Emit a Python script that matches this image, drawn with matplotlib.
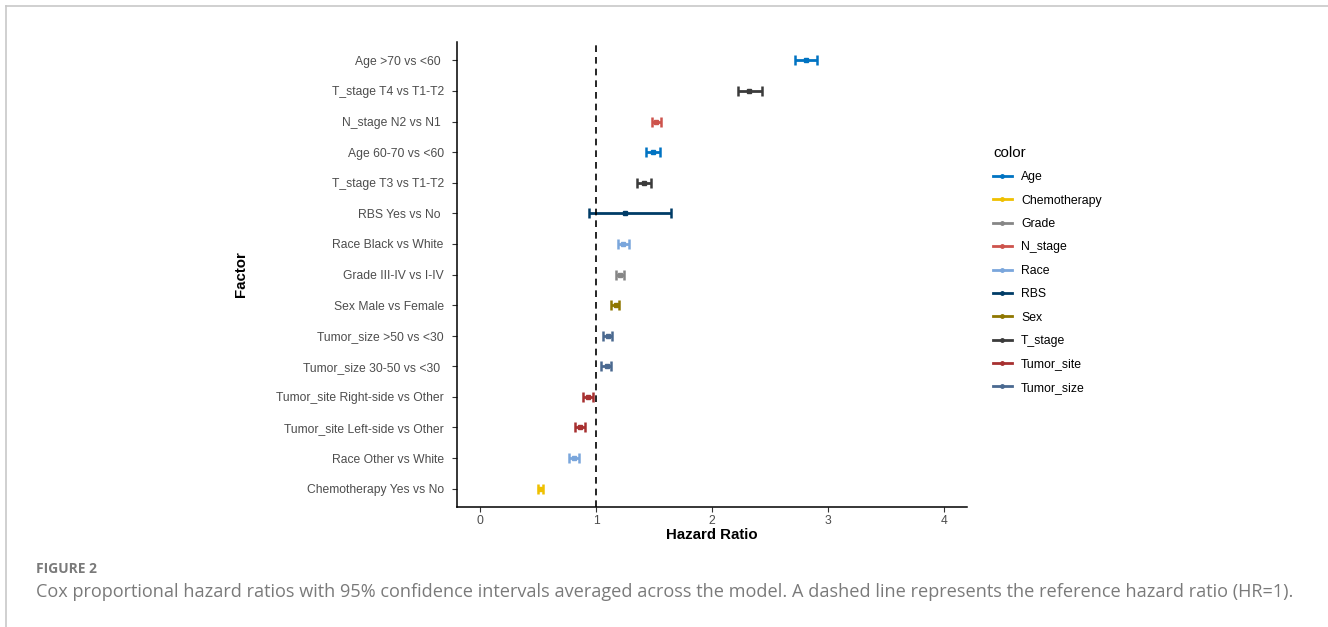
import matplotlib
matplotlib.use("Agg")
import matplotlib.pyplot as plt
from matplotlib.lines import Line2D

plt.rcParams["font.family"] = ["Liberation Sans", "DejaVu Sans"]

# rows, top to bottom as drawn
factors = ["Age >70 vs <60 ", "T_stage T4 vs T1-T2", "N_stage N2 vs N1 ", "Age 60-70 vs <60",
           "T_stage T3 vs T1-T2", "RBS Yes vs No ", "Race Black vs White", "Grade III-IV vs I-IV",
           "Sex Male vs Female", "Tumor_size >50 vs <30", "Tumor_size 30-50 vs <30 ",
           "Tumor_site Right-side vs Other", "Tumor_site Left-side vs Other",
           "Race Other vs White", "Chemotherapy Yes vs No"]
groups = ["Age", "T_stage", "N_stage", "Age", "T_stage", "RBS", "Race", "Grade", "Sex",
          "Tumor_size", "Tumor_size", "Tumor_site", "Tumor_site", "Race", "Chemotherapy"]
hr = [2.81, 2.32, 1.52, 1.49, 1.41, 1.25, 1.23, 1.21, 1.17, 1.10, 1.09, 0.93, 0.86, 0.81, 0.52]
ci_low = [2.72, 2.22, 1.48, 1.43, 1.35, 0.94, 1.19, 1.17, 1.13, 1.06, 1.04, 0.89, 0.82, 0.77, 0.50]
ci_high = [2.91, 2.43, 1.56, 1.55, 1.47, 1.65, 1.28, 1.24, 1.20, 1.14, 1.13, 0.97, 0.90, 0.85, 0.54]

legend_groups = ["Age", "Chemotherapy", "Grade", "N_stage", "Race", "RBS", "Sex",
                 "T_stage", "Tumor_site", "Tumor_size"]
# ggsci JCO palette
group_colors = ["#0073C2", "#EFC000", "#868686", "#CD534C", "#7AA6DC", "#003C67",
                "#8F7700", "#3B3B3B", "#A73030", "#4A6990"]
color_of = dict(zip(legend_groups, group_colors))

x_ticks = [0, 1, 2, 3, 4]

fig = plt.figure(figsize=(13.28, 6.27), dpi=100)
ax = fig.add_axes([457 / 1328, 1 - 507 / 627, 510 / 1328, 465 / 627])

n = len(factors)
ypos = list(range(n, 0, -1))
for y, g, m, lo, hi in zip(ypos, groups, hr, ci_low, ci_high):
    c = color_of[g]
    ax.errorbar(m, y, xerr=[[m - lo], [hi - m]], fmt="s", color=c, ecolor=c,
                elinewidth=2.0, capsize=3.6, capthick=1.8, markersize=3.4)

ax.axvline(1, color="black", linestyle=(0, (4, 3)), linewidth=1.2)

ax.set_xlim(-0.2, 4.2)
ax.set_ylim(0.4, n + 0.6)
ax.set_xticks(x_ticks)
ax.set_yticks(ypos)
ax.set_yticklabels(factors)
ax.tick_params(axis="both", labelsize=8.7, labelcolor="#4D4D4D", length=3.5,
               width=0.8, color="#333333")
ax.tick_params(axis="y", pad=6)
ax.tick_params(axis="x", pad=2)
for side in ["top", "right"]:
    ax.spines[side].set_visible(False)
for side in ["left", "bottom"]:
    ax.spines[side].set_linewidth(1.1)
ax.set_xlabel("Hazard Ratio", fontsize=10.8, fontweight="bold", labelpad=1)
ax.set_ylabel("Factor", fontsize=10.8, fontweight="bold")
ax.yaxis.set_label_coords((248 - 457) / 510, 0.5)

handles = [Line2D([], [], color=c, marker="o", markersize=2.5, linewidth=2)
           for c in group_colors]
leg = fig.legend(handles, legend_groups, title="color", loc="upper left",
                 bbox_to_anchor=(982 / 1328, 1 - 135 / 627), frameon=False,
                 fontsize=8.8, title_fontsize=10.8, handlelength=1.55,
                 handletextpad=0.75, labelspacing=0.93)
leg._legend_box.align = "left"

# page frame and caption
fig.add_artist(Line2D([6 / 1328, 6 / 1328], [0, 1 - 6 / 627], color="#C8C8C8",
                      linewidth=1.2, transform=fig.transFigure))
fig.add_artist(Line2D([6 / 1328, 1], [1 - 6 / 627, 1 - 6 / 627], color="#C8C8C8",
                      linewidth=1.2, transform=fig.transFigure))
fig.text(36 / 1328, 1 - 569 / 627, "FIGURE 2", fontsize=10, fontweight="bold",
         color="#7A7A7A", va="center", family="Open Sans")
fig.text(36 / 1328, 1 - 592 / 627,
         "Cox proportional hazard ratios with 95% confidence intervals averaged across the model. "
         "A dashed line represents the reference hazard ratio (HR=1).",
         fontsize=13.05, color="#7A7A7A", va="center", family="Open Sans")

fig.savefig("out.png", dpi=100, facecolor="white")
